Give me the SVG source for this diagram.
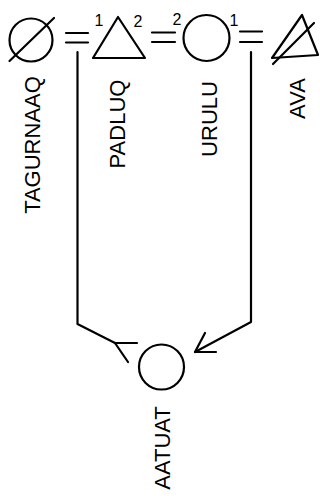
<svg xmlns="http://www.w3.org/2000/svg" width="320" height="496" viewBox="0 0 320 496">
<style>
.s{fill:none;stroke:#000;stroke-width:2.2;stroke-linecap:round;stroke-linejoin:round}
.t{font-family:"Liberation Sans",Arial,sans-serif;font-size:22px;fill:#000;text-anchor:middle}
.n{font-family:"Liberation Sans",Arial,sans-serif;font-size:16px;fill:#000;text-anchor:middle}
</style>
<rect width="320" height="496" fill="#fff"/>
<g id="tagurnaaq">
<circle class="s" cx="31" cy="40" r="21.5"/>
<line class="s" x1="9.5" y1="61" x2="54" y2="18"/>
<text class="t" transform="translate(40,145) rotate(-90)">TAGURNAAQ</text>
</g>
<g id="padluq">
<polygon class="s" points="118,17 93,58 145,58"/>
<text class="n" x="99" y="26">1</text>
<text class="n" x="138" y="27">2</text>
<text class="t" transform="translate(125,124) rotate(-90)">PADLUQ</text>
</g>
<g id="urulu">
<circle class="s" cx="206.5" cy="38" r="23"/>
<text class="n" x="177" y="25">2</text>
<text class="n" x="234" y="26">1</text>
<text class="t" transform="translate(217,119) rotate(-90)">URULU</text>
</g>
<g id="ava">
<polygon class="s" points="302,15 272,58 318,55"/>
<line class="s" x1="273" y1="64" x2="314" y2="23"/>
<text class="t" transform="translate(305,98.5) rotate(-90)">AVA</text>
</g>
<g id="aatuat">
<circle class="s" cx="161.5" cy="367" r="22.5"/>
<text class="t" transform="translate(170,448) rotate(-90)">AATUAT</text>
</g>
<g id="connectors">
<line class="s" x1="66" y1="33" x2="88" y2="33"/>
<line class="s" x1="66" y1="42.5" x2="88" y2="42.5"/>
<line class="s" x1="152" y1="32.5" x2="175" y2="32.5"/>
<line class="s" x1="152" y1="42" x2="175" y2="42"/>
<line class="s" x1="240" y1="31.5" x2="262" y2="31.5"/>
<line class="s" x1="240" y1="42" x2="262" y2="42"/>
<polyline class="s" points="77.5,52 77.5,324 115,343"/>
<line class="s" x1="115" y1="343" x2="137" y2="343"/>
<line class="s" x1="115" y1="343" x2="128" y2="362"/>
<polyline class="s" points="251,52 251,322 195,352"/>
<polyline class="s" points="205,333 195,352 216,352"/>
</g>
</svg>
